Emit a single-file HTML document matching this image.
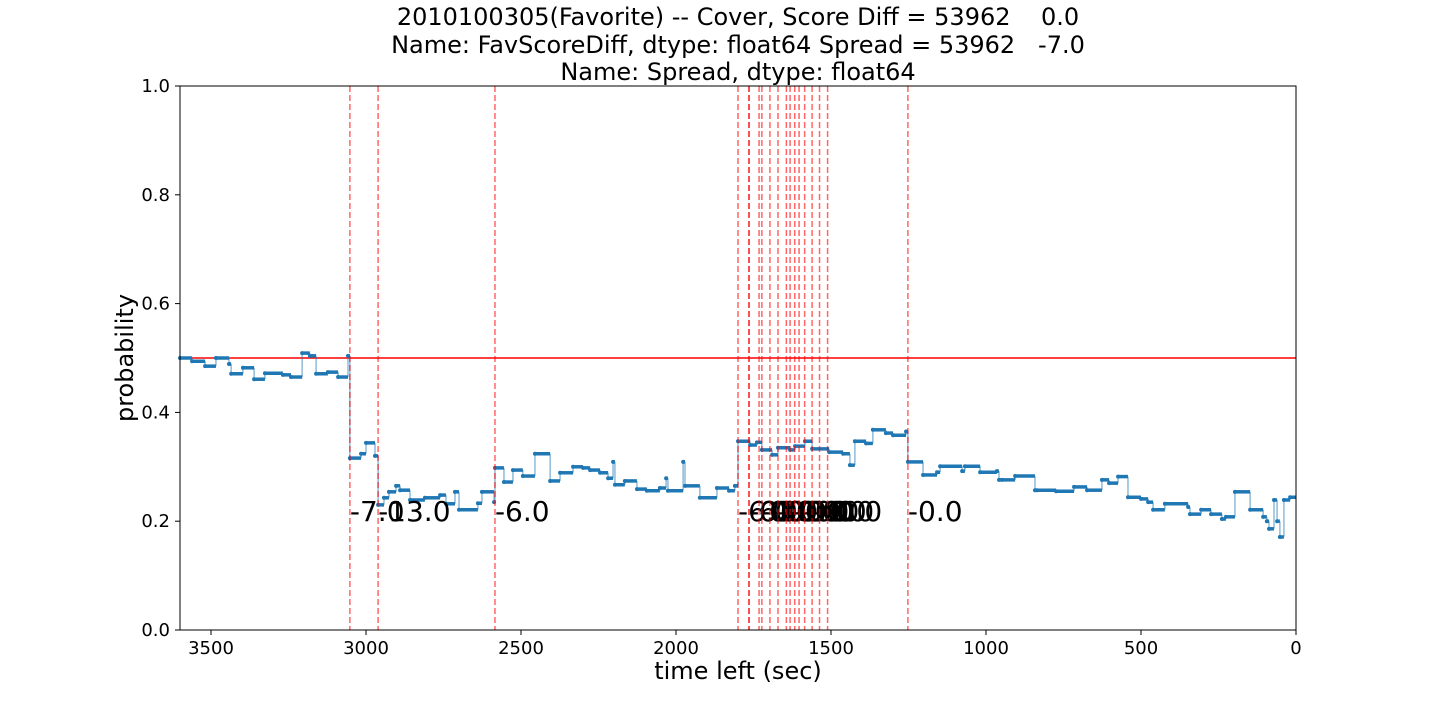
<!DOCTYPE html>
<html><head><meta charset="utf-8"><style>
body{margin:0;background:#fff;}
svg{font-family:"DejaVu Sans","Liberation Sans",sans-serif;}
text{white-space:pre;}
</style></head><body>
<svg id="chart" width="1440" height="720">
<g font-size="24" text-anchor="middle" fill="#000">
<text x="738" y="25" xml:space="preserve">2010100305(Favorite) -- Cover, Score Diff = 53962    0.0</text>
<text x="738" y="53" xml:space="preserve">Name: FavScoreDiff, dtype: float64 Spread = 53962   -7.0</text>
<text x="738" y="80">Name: Spread, dtype: float64</text>
</g>
<g id="marks"></g>
<rect x="180" y="86" width="1116" height="544" fill="none" stroke="#000" stroke-width="1"/>
<g id="axes"></g>
<text x="738" y="679" font-size="24" text-anchor="middle">time left (sec)</text>
<text transform="translate(133,358) rotate(-90)" font-size="24" text-anchor="middle">probability</text>
</svg>
<script>
const times=[3600,3561,3519,3484,3442,3435,3397,3361,3326,3268,3242,3206,3181,3161,3123,3090,3058,3052,3016,3000,2971,2961,2942,2926,2903,2890,2858,2810,2761,2742,2713,2700,2639,2626,2587,2584,2555,2526,2494,2455,2406,2374,2332,2300,2277,2245,2219,2203,2197,2165,2126,2094,2052,2032,2026,1977,1971,1923,1868,1829,1810,1800,1761,1739,1723,1690,1671,1632,1616,1584,1561,1506,1461,1439,1423,1387,1365,1323,1300,1258,1252,1203,1158,1148,1077,1068,1019,965,958,948,906,842,835,774,716,674,626,603,574,542,500,477,461,423,348,342,306,274,239,226,197,148,106,94,87,71,61,52,39,19];
const probs=[0.50,0.494,0.485,0.50,0.489,0.471,0.482,0.461,0.472,0.469,0.465,0.509,0.504,0.471,0.474,0.465,0.504,0.316,0.324,0.344,0.320,0.230,0.243,0.254,0.265,0.257,0.239,0.243,0.248,0.232,0.254,0.221,0.233,0.254,0.235,0.298,0.272,0.294,0.283,0.324,0.274,0.289,0.300,0.298,0.294,0.289,0.279,0.309,0.267,0.274,0.259,0.256,0.261,0.279,0.256,0.309,0.265,0.243,0.261,0.256,0.265,0.347,0.340,0.345,0.331,0.322,0.335,0.331,0.338,0.347,0.333,0.327,0.324,0.303,0.347,0.343,0.368,0.362,0.358,0.365,0.309,0.285,0.290,0.301,0.292,0.301,0.290,0.292,0.276,0.276,0.283,0.257,0.257,0.255,0.263,0.257,0.276,0.270,0.282,0.244,0.241,0.235,0.221,0.232,0.226,0.213,0.221,0.213,0.204,0.208,0.254,0.221,0.208,0.200,0.186,0.239,0.200,0.171,0.239,0.244];
const eventTimes=[3052,2961,2584,1800,1765,1764,1732,1723,1697,1671,1644,1632,1617,1603,1585,1561,1537,1511,1252];
const eventLabels=["-7.0","-13.0","-6.0","-6.0","-6.0","-0.0","-0.0","-0.0","-0.0","-0.0","-0.0","-0.0","-0.0","-0.0","-0.0","-0.0","-0.0","-0.0","-0.0"];
const xTicks=[3500,3000,2500,2000,1500,1000,500,0];
const yTicks=[0,0.2,0.4,0.6,0.8,1.0];
const refLine=0.5, labelLevel=0.2;
const NS="http://www.w3.org/2000/svg";
const X=t=>180+(3600-t)*1116/3600;
const Y=p=>630-p*544;
function mk(tag,attrs,parent){const e=document.createElementNS(NS,tag);for(const k in attrs)e.setAttribute(k,attrs[k]);parent.appendChild(e);return e;}
const marks=document.getElementById('marks'), axes=document.getElementById('axes');
let rl=mk('line',{x1:180,x2:1296,y1:Y(refLine),y2:Y(refLine),stroke:'#ff0000','stroke-width':1.5},marks);


for(let i=0;i<times.length;i++){
  const x1=X(times[i]), x2=X(i+1<times.length?times[i+1]:0), y=Y(probs[i]);
  const h=mk('line',{x1:x1,x2:x2,y1:y,y2:y,stroke:'#1f77b4','stroke-width':3.5},marks);
  
  
  if(i+1<times.length){
    const v=mk('line',{x1:x2,x2:x2,y1:y,y2:Y(probs[i+1]),stroke:'#1f77b4','stroke-width':1.5,'stroke-opacity':0.5},marks);
    
    
  }
  const d=mk('circle',{cx:x1,cy:y,r:2,fill:'#1f77b4'},marks);
  
  
}
for(let i=0;i<eventTimes.length;i++){
  const x=X(eventTimes[i]);
  const l=mk('line',{x1:x,x2:x,y1:86,y2:630,stroke:'#ff0000','stroke-opacity':0.6,'stroke-width':1.5,'stroke-dasharray':'6,3'},marks);
  
  
  const t=mk('text',{x:x,y:Y(labelLevel),'font-size':28,fill:'#000'},marks);
  t.textContent=eventLabels[i];
  
  
}
xTicks.forEach(v=>{const x=X(v);
  const tk=mk('line',{x1:x,x2:x,y1:630,y2:635,stroke:'#000'},axes);
  
  
  const t=mk('text',{x:x,y:654,'font-size':18,'text-anchor':'middle'},axes);t.textContent=v;
  
  
});
yTicks.forEach(v=>{const y=Y(v);
  const tk=mk('line',{x1:175,x2:180,y1:y,y2:y,stroke:'#000'},axes);
  
  
  const t=mk('text',{x:170,y:y+6,'font-size':18,'text-anchor':'end'},axes);t.textContent=v.toFixed(1);
  
  
});
</script>
</body></html>
